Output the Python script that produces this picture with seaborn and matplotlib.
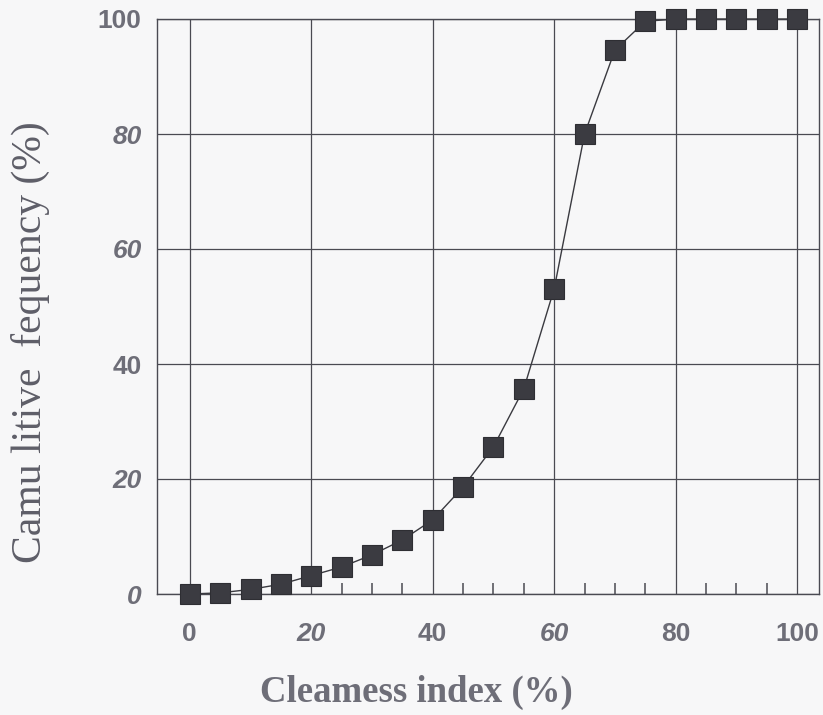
import matplotlib
matplotlib.use("Agg")
import matplotlib.pyplot as plt
import seaborn as sns
import pandas as pd
from matplotlib.ticker import FixedLocator

# Data
clearness_index = [0, 5, 10, 15, 20, 25, 30, 35, 40, 45, 50, 55, 60, 65, 70, 75, 80, 85, 90, 95, 100]
cumulative_freq = [0.0, 0.2, 0.8, 1.7, 3.2, 4.7, 6.8, 9.4, 12.9, 18.6, 25.6, 35.7, 53.1, 80.0, 94.6, 99.6,
                   100.0, 100.0, 100.0, 100.0, 100.0]
x_ticks = [0, 20, 40, 60, 80, 100]
x_minor_ticks = [5, 10, 15, 25, 30, 35, 45, 50, 55, 65, 70, 75, 85, 90, 95]
y_ticks = [0, 20, 40, 60, 80, 100]
x_tick_italic = [False, True, False, True, False, False]
y_tick_italic = [True, True, False, True, True, False]
x_label = "Cleamess index (%)"
y_label = "Camu litive  fequency (%)"

df = pd.DataFrame({"x": clearness_index, "y": cumulative_freq})

sns.set_style("white")
fig = plt.figure(figsize=(8.23, 7.15), dpi=100)
fig.patch.set_facecolor("#f7f7f8")
ax = fig.add_axes([157 / 823, 1 - 594 / 715, (819 - 157) / 823, (594 - 19) / 715])
ax.set_facecolor("#f7f7f8")

frame_col = "#4a4a52"
text_col = "#6e6e78"

sns.lineplot(data=df, x="x", y="y", ax=ax, color="#3a3a40", linewidth=1.0,
             marker="s", markersize=14.5, markerfacecolor="#3b3b41",
             markeredgecolor="#2e2e33", markeredgewidth=0.8, clip_on=False, zorder=5)

ax.set_xlim(-5.4, 103.6)
ax.set_ylim(0, 100)
ax.set_xticks(x_ticks)
ax.set_yticks(y_ticks)
ax.xaxis.set_minor_locator(FixedLocator(x_minor_ticks))
ax.grid(True, which="major", color=frame_col, linewidth=0.9)
ax.set_axisbelow(True)
for s in ax.spines.values():
    s.set_color(frame_col)
    s.set_linewidth(1.0)
    s.set_visible(True)

ax.tick_params(axis="x", which="both", bottom=True)
ax.tick_params(axis="x", which="major", direction="in", length=0, pad=20)
ax.tick_params(axis="x", which="minor", direction="in", length=8, width=1.1, color=frame_col)
ax.tick_params(axis="y", which="major", direction="in", length=0, pad=11)

ax.set_xticklabels([str(t) for t in x_ticks])
ax.set_yticklabels([str(t) for t in y_ticks])
for lab, it in zip(ax.get_xticklabels(), x_tick_italic):
    lab.set_fontfamily("Liberation Sans")
    lab.set_fontweight("bold")
    lab.set_fontsize(19)
    lab.set_color(text_col)
    lab.set_fontstyle("italic" if it else "normal")
for lab, it in zip(ax.get_yticklabels(), y_tick_italic):
    lab.set_fontfamily("Liberation Sans")
    lab.set_fontweight("bold")
    lab.set_fontsize(19)
    lab.set_color(text_col)
    lab.set_fontstyle("italic" if it else "normal")

ax.set_xlabel("")
ax.set_ylabel("")
fig.text(416 / 823, 1 - 692 / 715, x_label, ha="center", va="center",
         fontfamily="Liberation Serif", fontweight="bold", fontsize=26.5, color=text_col)
fig.text(30 / 823, 1 - 342 / 715, y_label, ha="center", va="center", rotation=90,
         fontfamily="Liberation Serif", fontsize=30, color="#5e5e68")

fig.savefig("out.png", dpi=100, facecolor=fig.get_facecolor())
